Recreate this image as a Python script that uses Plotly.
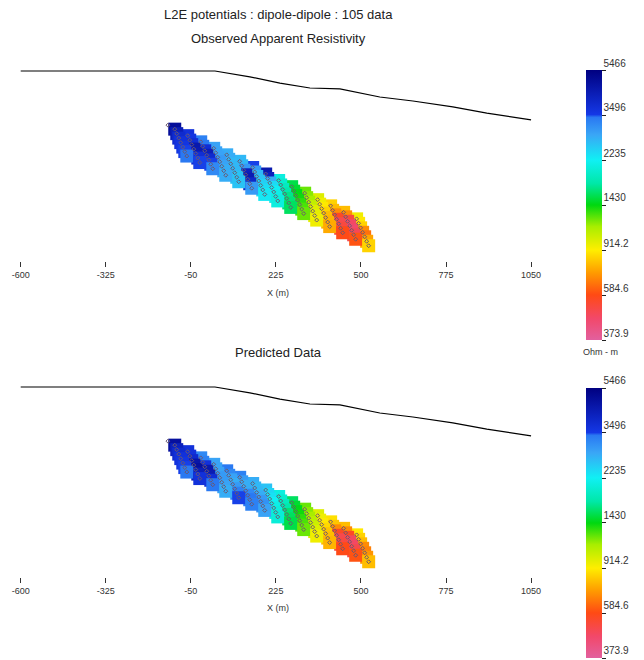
import numpy as np
import plotly.graph_objects as go

# ---------------- data ----------------
x_ticks = [-600, -325, -50, 225, 500, 775, 1050]
x_tick_labels = ["-600", "-325", "-50", "225", "500", "775", "1050"]
cbar_labels = ["373.9", "584.6", "914.2", "1430", "2235", "3496", "5466"]
cbar_values = [373.9, 584.6, 914.2, 1430, 2235, 3496, 5466]

# topography profile (m)
topo_x = [-600, 28, 141, 238, 335, 432, 561, 668, 797, 907, 1050]
topo_z = [1000, 1000, 981, 961, 945, 942, 916, 903, 884, 864, 842]

# pseudosection geometry: station positions and level offsets
station_x = [-102, -60, -18, 24, 66, 108, 150, 192, 234, 276, 318, 360, 402, 444, 486]
station_z = [812, 791, 771, 750, 729, 708, 688, 667, 646, 626, 605, 584, 564, 543, 522]
level_dx = [0, 6.5, 13, 19.5, 26, 32.5, 39]
level_dz = [0, -14.5, -29, -43.5, -58, -72.5, -87]

extra_x = [-124]
extra_z = [825]

observed = [
    [4900, 3700, 3300, 2900, 2800, 2700, 3500, 4500, 2100, 1550, 1250, 1000, 850, 800, 950],
    [4300, 3600, 3400, 2900, 2800, 2700, 3000, 4200, 2000, 1500, 1200, 950, 800, 700, 900],
    [3900, 3800, 3800, 2900, 2700, 3000, 2700, 2800, 1900, 1450, 1150, 900, 700, 520, 850],
    [3700, 4500, 4300, 3000, 2700, 4200, 2600, 2400, 1800, 1400, 1080, 850, 560, 470, 700],
    [3600, 4400, 3900, 2900, 2700, 4400, 2500, 2250, 1700, 1350, 1000, 800, 500, 460, 650],
    [3500, 3800, 3500, 2800, 2600, 4000, 2400, 2150, 1650, 1300, 980, 780, 520, 490, 750],
    [3400, 3500, 3200, 2800, 2600, 3000, 2300, 2100, 1600, 1250, 950, 760, 580, 600, 850],
]
predicted = [
    [4800, 3700, 3200, 2900, 3400, 3300, 2800, 2600, 2100, 1600, 1250, 1000, 880, 800, 900],
    [4200, 3700, 3300, 2900, 3200, 3000, 2700, 2450, 2000, 1500, 1200, 950, 820, 700, 850],
    [3900, 3900, 3700, 2900, 2900, 2800, 2700, 2350, 1900, 1450, 1150, 900, 700, 560, 800],
    [3700, 4600, 4500, 3000, 2800, 2800, 2800, 2250, 1800, 1400, 1100, 860, 560, 480, 700],
    [3600, 4800, 4400, 3000, 3000, 3200, 3000, 2150, 1650, 1350, 1050, 820, 500, 470, 680],
    [3500, 4300, 3800, 2900, 3300, 3400, 3100, 2100, 1600, 1300, 1000, 800, 520, 500, 720],
    [3400, 3700, 3400, 2800, 3500, 3300, 2900, 2050, 1550, 1250, 950, 780, 580, 600, 800],
]

# ---------------- build ----------------
px_, pz_ = [], []
for n in range(len(level_dx)):
    for s in range(len(station_x)):
        px_.append(station_x[s] + level_dx[n])
        pz_.append(station_z[s] + level_dz[n])

obs_log = np.log10(np.array(observed, dtype=float)).ravel()
pre_log = np.log10(np.array(predicted, dtype=float)).ravel()

colorscale = [
    [0.00, "#e2609e"],
    [0.08, "#f2486a"],
    [0.167, "#ff4a14"],
    [0.25, "#ff9c00"],
    [0.333, "#ffee00"],
    [0.42, "#a8ee00"],
    [0.50, "#00d810"],
    [0.58, "#00e8a8"],
    [0.667, "#10f0f4"],
    [0.76, "#3aa6f6"],
    [0.825, "#2a78f2"],
    [0.835, "#1438e6"],
    [1.00, "#000080"],
]

fig = go.Figure()

for xa, ya, vals, cax in [("x", "y", obs_log, "coloraxis"), ("x2", "y2", pre_log, "coloraxis2")]:
    fig.add_trace(go.Scatter(x=topo_x, y=topo_z, mode="lines",
                             line=dict(color="black", width=1.2),
                             xaxis=xa, yaxis=ya, showlegend=False, hoverinfo="skip"))
    fig.add_trace(go.Scatter(x=px_, y=pz_, mode="markers",
                             marker=dict(symbol="square", size=13, color=vals,
                                         coloraxis=cax, line=dict(width=0)),
                             xaxis=xa, yaxis=ya, showlegend=False))
    fig.add_trace(go.Scatter(x=px_ + extra_x, y=pz_ + extra_z, mode="markers",
                             marker=dict(symbol="diamond-open", size=3,
                                         color="#6a5870", line=dict(width=1)),
                             xaxis=xa, yaxis=ya, showlegend=False, hoverinfo="skip"))

cmin = float(np.log10(cbar_values[0]))
cmax = float(np.log10(cbar_values[-1]))
tickvals = [float(np.log10(v)) for v in cbar_values]


def cbar(yc):
    return dict(
        x=586 / 644, xanchor="left", xpad=0,
        y=yc, yanchor="middle", ypad=0,
        len=270 / 660, lenmode="fraction",
        thickness=16, thicknessmode="pixels",
        outlinewidth=0,
        tickvals=tickvals, ticktext=cbar_labels,
        ticks="outside", ticklen=4, tickcolor="#222", tickwidth=1,
        ticklabelposition="outside top",
        tickfont=dict(family="Liberation Sans", size=10, color="#333"),
    )


r0 = -600 - 20.7 * 3.233
r1 = r0 + 644 * 3.233
z_top = 1000 + 31 * 3.233
z_bot = 1000 - 190 * 3.233

axis_x = dict(range=[r0, r1], domain=[0, 1], showgrid=False, zeroline=False,
              showline=False, tickvals=x_ticks, ticktext=x_tick_labels,
              ticks="outside", ticklen=5,
              tickcolor="#333", tickwidth=1,
              tickfont=dict(family="Liberation Sans", size=9, color="#333"))
axis_y = dict(range=[z_bot, z_top], visible=False, showgrid=False, zeroline=False)

fig.update_layout(
    width=644, height=660,
    margin=dict(l=0, r=0, t=0, b=0),
    paper_bgcolor="white", plot_bgcolor="white",
    xaxis=dict(axis_x, anchor="y"),
    yaxis=dict(axis_y, domain=[1 - 261 / 660, 1 - 40 / 660], anchor="x"),
    xaxis2=dict(axis_x, anchor="y2"),
    yaxis2=dict(axis_y, domain=[1 - 577 / 660, 1 - 356 / 660], anchor="x2"),
    coloraxis=dict(colorscale=colorscale, cmin=cmin, cmax=cmax,
                   colorbar=cbar(1 - 205.5 / 660)),
    coloraxis2=dict(colorscale=colorscale, cmin=cmin, cmax=cmax,
                    colorbar=cbar(1 - 523 / 660)),
)

title_font = dict(family="Liberation Sans", size=13, color="#222")
small_font = dict(family="Liberation Sans", size=9, color="#333")
annots = [
    dict(text="L2E potentials : dipole-dipole : 105 data", x=278 / 644, y=1 - 15 / 660, font=title_font),
    dict(text="Observed Apparent Resistivity", x=278 / 644, y=1 - 38 / 660, font=title_font),
    dict(text="Predicted Data", x=278 / 644, y=1 - 353 / 660, font=title_font),
    dict(text="X (m)", x=278 / 644, y=1 - 293 / 660, font=small_font),
    dict(text="X (m)", x=278 / 644, y=1 - 608 / 660, font=small_font),
    dict(text="Ohm - m", x=600 / 644, y=1 - 352 / 660, font=small_font),
]
for a in annots:
    fig.add_annotation(xref="paper", yref="paper", showarrow=False,
                       xanchor="center", yanchor="middle", **a)

fig.write_html("out.html", config={"displayModeBar": False},
               post_script="document.body.style.margin='0';document.body.style.overflow='hidden';")
